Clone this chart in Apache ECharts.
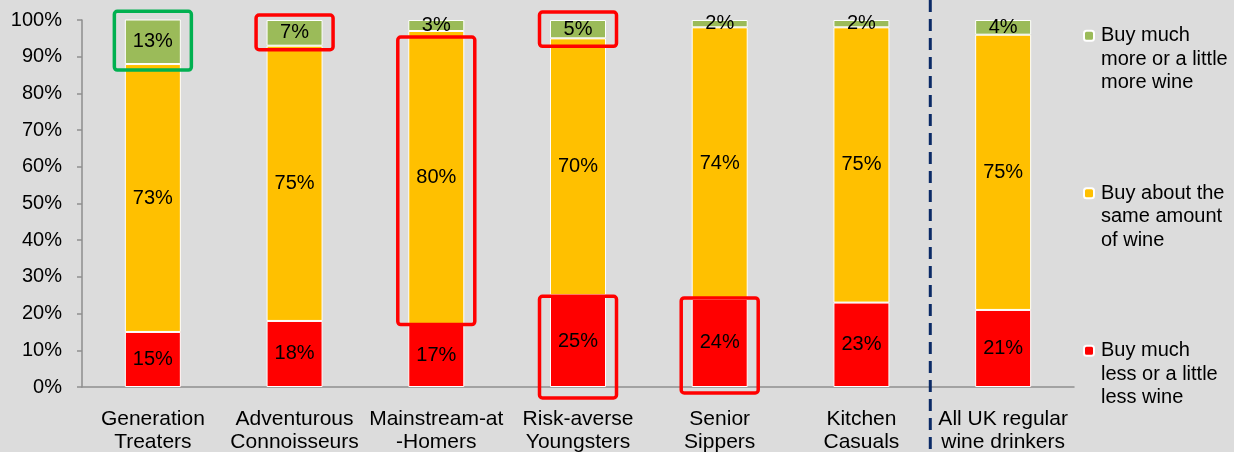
<!DOCTYPE html>
<html>
<head>
<meta charset="utf-8">
<script src="https://cdn.jsdelivr.net/npm/echarts@6/dist/echarts.min.js"></script>
<style>
  html, body { margin: 0; padding: 0; background: #DCDCDC; }
  #chart { width: 1234px; height: 452px; }
</style>
</head>
<body>
<div id="chart"></div>
<script>
// Segments and their shares of each group (%)
const categories = [
  'Generation\nTreaters',
  'Adventurous\nConnoisseurs',
  'Mainstream-at\n-Homers',
  'Risk-averse\nYoungsters',
  'Senior\nSippers',
  'Kitchen\nCasuals',
  'All UK regular\nwine drinkers'
];
const buyLess = [15, 18, 17, 25, 24, 23, 21];
const buySame = [73, 75, 80, 70, 74, 75, 75];
const buyMore = [13, 7, 3, 5, 2, 2, 4];
const yTicks = [0, 10, 20, 30, 40, 50, 60, 70, 80, 90, 100];

const seriesNames = {
  more: 'Buy much\nmore or a little\nmore wine',
  same: 'Buy about the\nsame amount\nof wine',
  less: 'Buy much\nless or a little\nless wine'
};

// Segments called out with an outline: [category index, series key, outline colour]
const callouts = [
  [0, 'more', '#00B050'],
  [1, 'more', '#FF0000'],
  [2, 'same', '#FF0000'],
  [3, 'more', '#FF0000'],
  [3, 'less', '#FF0000'],
  [4, 'less', '#FF0000']
];
// Vertical insets (px) of each outline beyond its segment: [above, below]
const calloutPad = [[5, 6], [5, 4], [-6, 0], [8, 8], [-1, 11], [1, 6]];

const FONT = '"Liberation Sans", Arial, Helvetica, sans-serif';
const BAR_W = 56;
const LINE_H = 23.5;

const chart = echarts.init(document.getElementById('chart'), null, { renderer: 'canvas' });

const label = {
  show: true,
  position: 'inside',
  color: '#000',
  fontSize: 20,
  fontFamily: FONT,
  formatter: p => p.value + '%'
};
function bar(name, data, color) {
  return {
    name, type: 'bar', stack: 'total', data,
    barWidth: BAR_W,
    itemStyle: { color, borderColor: '#fff', borderWidth: 1 },
    label,
    emphasis: { disabled: true }
  };
}

chart.setOption({
  animation: false,
  backgroundColor: '#DCDCDC',
  textStyle: { fontFamily: FONT },
  grid: { left: 82, right: 160, top: 20, bottom: 65, outerBoundsMode: 'none', containLabel: false },
  legend: {
    orient: 'vertical',
    left: 1083,
    top: -23,
    padding: 0,
    itemGap: 40,
    itemWidth: 10,
    itemHeight: 10,
    selectedMode: false,
    data: [seriesNames.more, seriesNames.same, seriesNames.less],
    // two blank lines above each entry put its first line level with the swatch
    formatter: name => '\n\n' + name,
    textStyle: {
      fontSize: 20,
      color: '#000',
      fontFamily: FONT,
      lineHeight: LINE_H,
      padding: [0, 0, 0, 2]
    }
  },
  xAxis: {
    type: 'category',
    data: categories,
    axisLine: { lineStyle: { color: '#8E8E8E', width: 1.5 } },
    axisTick: { length: 5, lineStyle: { color: '#8E8E8E', width: 1.5 } },
    axisLabel: {
      color: '#000', fontSize: 21, fontFamily: FONT,
      lineHeight: 23, margin: 21, interval: 0
    }
  },
  yAxis: {
    type: 'value',
    min: yTicks[0],
    max: yTicks[yTicks.length - 1],
    interval: yTicks[1] - yTicks[0],
    splitLine: { show: false },
    axisLine: { show: true, lineStyle: { color: '#8E8E8E', width: 1.5 } },
    axisTick: { show: true, length: 5, lineStyle: { color: '#8E8E8E', width: 1.5 } },
    axisLabel: {
      color: '#000', fontSize: 20, fontFamily: FONT, margin: 20,
      formatter: '{value}%'
    }
  },
  series: [
    bar(seriesNames.less, buyLess, '#FF0000'),
    bar(seriesNames.same, buySame, '#FFC000'),
    bar(seriesNames.more, buyMore, '#9BBB59')
  ]
});

// Segment bounds in data units for a given category and series key
function segmentRange(i, key) {
  const lo = key === 'less' ? 0 : key === 'same' ? buyLess[i] : buyLess[i] + buySame[i];
  const size = key === 'less' ? buyLess[i] : key === 'same' ? buySame[i] : buyMore[i];
  return [lo, lo + size];
}

const graphics = [];
callouts.forEach(([i, key, color], n) => {
  const [lo, hi] = segmentRange(i, key);
  const pLo = chart.convertToPixel({ gridIndex: 0 }, [i, lo]);
  const pHi = chart.convertToPixel({ gridIndex: 0 }, [i, hi]);
  const padX = 10.5;
  const [padTop, padBottom] = calloutPad[n];
  const x = pLo[0] - BAR_W / 2 - padX;
  const y = pHi[1] - padTop;
  graphics.push({
    type: 'rect',
    z: 100,
    silent: true,
    shape: { x, y, width: BAR_W + padX * 2, height: (pLo[1] + padBottom) - y, r: 3 },
    style: { fill: 'none', stroke: color, lineWidth: 3.5 }
  });
});

// Dashed divider between the segments and the all-drinkers total
const left = chart.convertToPixel({ gridIndex: 0 }, [categories.length - 2, 0])[0];
const right = chart.convertToPixel({ gridIndex: 0 }, [categories.length - 1, 0])[0];
const divX = (left + right) / 2 - 2;
graphics.push({
  type: 'line',
  z: 100,
  silent: true,
  shape: { x1: divX, y1: 0, x2: divX, y2: chart.getHeight() },
  style: { stroke: '#0B2A66', lineWidth: 3, lineDash: [12, 7] }
});

chart.setOption({ graphic: graphics });
</script>
</body>
</html>
